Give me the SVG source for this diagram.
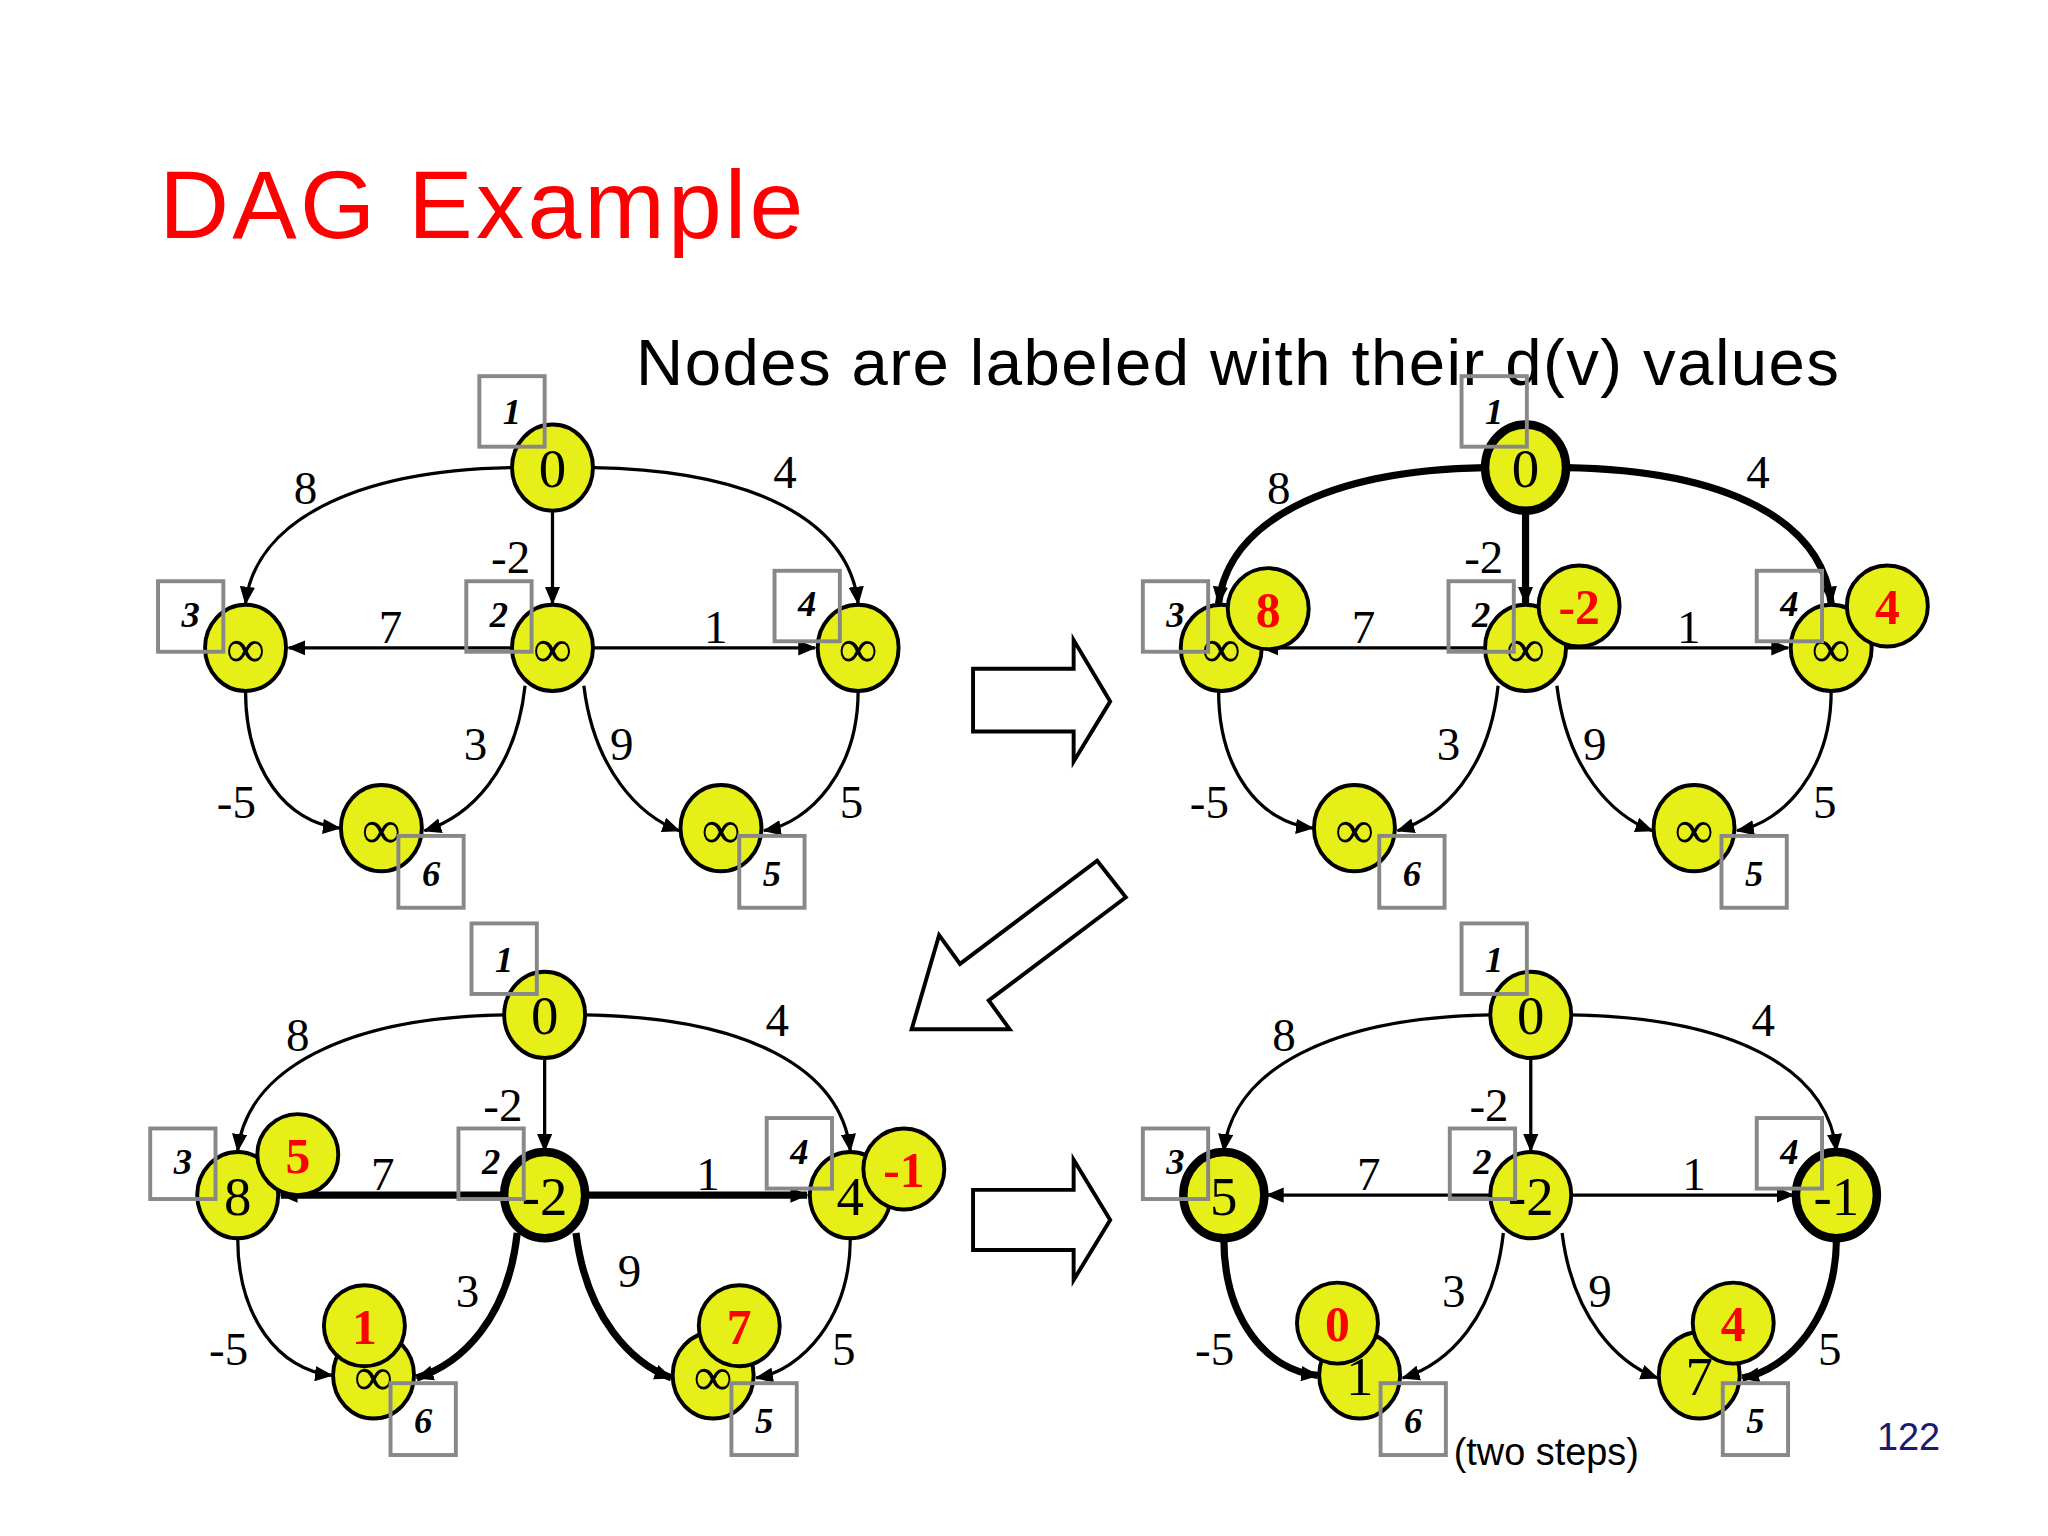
<svg xmlns="http://www.w3.org/2000/svg" width="2048" height="1536" viewBox="0 0 2048 1536">
<style>
.e{fill:none;stroke:#000;stroke-width:2.5}
.t{stroke-width:5.5}
.n{fill:#e6ef17;stroke:#000;stroke-width:3}
.nt{stroke-width:6.5}
.b{fill:#e6ef17;stroke:#000;stroke-width:3}
.v{font-family:"Liberation Serif",serif;font-size:42px;text-anchor:middle}
.bv{font-family:"Liberation Serif",serif;font-size:38px;font-weight:bold;fill:#f00;text-anchor:middle}
.w{font-family:"Liberation Serif",serif;font-size:36px;text-anchor:middle}
.bx{fill:none;stroke:#888;stroke-width:3}
.bl{font-family:"Liberation Serif",serif;font-size:28px;font-style:italic;font-weight:bold;text-anchor:middle}
.ba{fill:#fff;stroke:#000;stroke-width:3}
</style>
<defs>
<marker id="ah" viewBox="0 0 12 10" refX="11" refY="5" markerWidth="14" markerHeight="12" markerUnits="userSpaceOnUse" orient="auto"><path d="M0,0L12,5L0,10z"/></marker>
</defs>
<rect width="2048" height="1536" fill="#fff"/>
<g transform="scale(1.30612)">
<text x="122" y="182" font-family="Liberation Sans,sans-serif" font-size="74" fill="#f00" textLength="493">DAG Example</text>
<text x="487" y="295" font-family="Liberation Sans,sans-serif" font-size="50" textLength="921">Nodes are labeled with their d(v) values</text>
<text x="1437" y="1110" font-family="Liberation Sans,sans-serif" font-size="29" fill="#1a1a6e">122</text>
<text x="1113" y="1122" font-family="Liberation Sans,sans-serif" font-size="29">(two steps)</text>
<g id="bigarrows">
<polygon class="ba" points="745,512 822,512 822,490 850,537 822,583 822,560 745,560"/>
<polygon class="ba" points="745,911 822,911 822,888 850,934 822,980 822,957 745,957"/>
<polygon class="ba" points="862,687 757,766 773,788 698,788 719,716 735,738 840,659"/>
</g>

<g id="p1">
<g id="p1-edges">
<path class="e" marker-end="url(#ah)" d="M392,358 C270,360 195,400 188,462"/>
<path class="e" marker-end="url(#ah)" d="M454,358 C580,360 650,400 657,462"/>
<path class="e" marker-end="url(#ah)" d="M423,391 L423,462"/>
<path class="e" marker-end="url(#ah)" d="M392,496 L221,496"/>
<path class="e" marker-end="url(#ah)" d="M454,496 L624,496"/>
<path class="e" marker-end="url(#ah)" d="M188,529 C188,590 220,630 260,634"/>
<path class="e" marker-end="url(#ah)" d="M402,525 C395,590 360,625 325,636"/>
<path class="e" marker-end="url(#ah)" d="M447,525 C455,590 490,625 520,636"/>
<path class="e" marker-end="url(#ah)" d="M657,529 C657,590 620,630 585,636"/>
<text class="w" x="234" y="386">8</text><text class="w" x="601" y="374">4</text><text class="w" x="391" y="439">-2</text>
<text class="w" x="299" y="492">7</text><text class="w" x="548" y="492">1</text><text class="w" x="364" y="582">3</text>
<text class="w" x="476" y="582">9</text><text class="w" x="181" y="626">-5</text><text class="w" x="652" y="626">5</text>
</g>
<g id="p1-n1"><ellipse class="n" cx="423" cy="358" rx="31" ry="33"/><text class="v" x="423" y="373">0</text><rect class="bx" x="367" y="288" width="50" height="54"/><text class="bl" x="392" y="325">1</text></g>
<g id="p1-n3"><ellipse class="n" cx="188" cy="496" rx="31" ry="33"/><text class="v" x="188" y="511">∞</text><rect class="bx" x="121" y="445" width="50" height="54"/><text class="bl" x="146" y="480">3</text></g>
<g id="p1-n2"><ellipse class="n" cx="423" cy="496" rx="31" ry="33"/><text class="v" x="423" y="511">∞</text><rect class="bx" x="357" y="445" width="50" height="54"/><text class="bl" x="382" y="480">2</text></g>
<g id="p1-n4"><ellipse class="n" cx="657" cy="496" rx="31" ry="33"/><text class="v" x="657" y="511">∞</text><rect class="bx" x="593" y="437" width="50" height="54"/><text class="bl" x="618" y="472">4</text></g>
<g id="p1-n6"><ellipse class="n" cx="292" cy="634" rx="31" ry="33"/><text class="v" x="292" y="649">∞</text><rect class="bx" x="305" y="640" width="50" height="55"/><text class="bl" x="330" y="678">6</text></g>
<g id="p1-n5"><ellipse class="n" cx="552" cy="634" rx="31" ry="33"/><text class="v" x="552" y="649">∞</text><rect class="bx" x="566" y="640" width="50" height="55"/><text class="bl" x="591" y="678">5</text></g>
</g>

<g id="p2" transform="translate(745,0)">
<g id="p2-edges">
<path class="e t" marker-end="url(#ah)" d="M392,358 C270,360 195,400 188,462"/>
<path class="e t" marker-end="url(#ah)" d="M454,358 C580,360 650,400 657,462"/>
<path class="e t" marker-end="url(#ah)" d="M423,391 L423,462"/>
<path class="e" marker-end="url(#ah)" d="M392,496 L221,496"/>
<path class="e" marker-end="url(#ah)" d="M454,496 L624,496"/>
<path class="e" marker-end="url(#ah)" d="M188,529 C188,590 220,630 260,634"/>
<path class="e" marker-end="url(#ah)" d="M402,525 C395,590 360,625 325,636"/>
<path class="e" marker-end="url(#ah)" d="M447,525 C455,590 490,625 520,636"/>
<path class="e" marker-end="url(#ah)" d="M657,529 C657,590 620,630 585,636"/>
<text class="w" x="234" y="386">8</text><text class="w" x="601" y="374">4</text><text class="w" x="391" y="439">-2</text>
<text class="w" x="299" y="492">7</text><text class="w" x="548" y="492">1</text><text class="w" x="364" y="582">3</text>
<text class="w" x="476" y="582">9</text><text class="w" x="181" y="626">-5</text><text class="w" x="652" y="626">5</text>
</g>
<g id="p2-n1"><ellipse class="n nt" cx="423" cy="358" rx="31" ry="33"/><text class="v" x="423" y="373">0</text><rect class="bx" x="374" y="288" width="50" height="54"/><text class="bl" x="399" y="325">1</text></g>
<g id="p2-n3"><ellipse class="n" cx="190" cy="496" rx="31" ry="33"/><text class="v" x="190" y="511">∞</text><rect class="bx" x="130" y="445" width="50" height="54"/><text class="bl" x="155" y="480">3</text><circle class="b" cx="226" cy="466" r="31"/><text class="bv" x="226" y="480">8</text></g>
<g id="p2-n2"><ellipse class="n" cx="423" cy="496" rx="31" ry="33"/><text class="v" x="423" y="511">∞</text><rect class="bx" x="364" y="445" width="50" height="54"/><text class="bl" x="389" y="480">2</text><circle class="b" cx="464" cy="464" r="31"/><text class="bv" x="464" y="478">-2</text></g>
<g id="p2-n4"><ellipse class="n" cx="657" cy="496" rx="31" ry="33"/><text class="v" x="657" y="511">∞</text><rect class="bx" x="600" y="437" width="50" height="54"/><text class="bl" x="625" y="472">4</text><circle class="b" cx="700" cy="464" r="31"/><text class="bv" x="700" y="478">4</text></g>
<g id="p2-n6"><ellipse class="n" cx="292" cy="634" rx="31" ry="33"/><text class="v" x="292" y="649">∞</text><rect class="bx" x="311" y="640" width="50" height="55"/><text class="bl" x="336" y="678">6</text></g>
<g id="p2-n5"><ellipse class="n" cx="552" cy="634" rx="31" ry="33"/><text class="v" x="552" y="649">∞</text><rect class="bx" x="573" y="640" width="50" height="55"/><text class="bl" x="598" y="678">5</text></g>
</g>

<g id="p3" transform="translate(-6,419)">
<g id="p3-edges">
<path class="e" marker-end="url(#ah)" d="M392,358 C270,360 195,400 188,462"/>
<path class="e" marker-end="url(#ah)" d="M454,358 C580,360 650,400 657,462"/>
<path class="e" marker-end="url(#ah)" d="M423,391 L423,462"/>
<path class="e t" marker-end="url(#ah)" d="M392,496 L221,496"/>
<path class="e t" marker-end="url(#ah)" d="M454,496 L624,496"/>
<path class="e" marker-end="url(#ah)" d="M188,529 C188,590 220,630 260,634"/>
<path class="e t" marker-end="url(#ah)" d="M402,525 C395,590 360,625 325,636"/>
<path class="e t" marker-end="url(#ah)" d="M447,525 C455,590 490,625 520,636"/>
<path class="e" marker-end="url(#ah)" d="M657,529 C657,590 620,630 585,636"/>
<text class="w" x="234" y="386">8</text><text class="w" x="601" y="374">4</text><text class="w" x="391" y="439">-2</text>
<text class="w" x="299" y="492">7</text><text class="w" x="548" y="492">1</text><text class="w" x="364" y="582">3</text>
<text class="w" x="488" y="566">9</text><text class="w" x="181" y="626">-5</text><text class="w" x="652" y="626">5</text>
</g>
<g id="p3-n1"><ellipse class="n" cx="423" cy="358" rx="31" ry="33"/><text class="v" x="423" y="373">0</text><rect class="bx" x="367" y="288" width="50" height="54"/><text class="bl" x="392" y="325">1</text></g>
<g id="p3-n3"><ellipse class="n" cx="188" cy="496" rx="31" ry="33"/><text class="v" x="188" y="511">8</text><rect class="bx" x="121" y="445" width="50" height="54"/><text class="bl" x="146" y="480">3</text><circle class="b" cx="234" cy="465" r="31"/><text class="bv" x="234" y="479">5</text></g>
<g id="p3-n2"><ellipse class="n nt" cx="423" cy="496" rx="31" ry="33"/><text class="v" x="423" y="511">-2</text><rect class="bx" x="357" y="445" width="50" height="54"/><text class="bl" x="382" y="480">2</text></g>
<g id="p3-n4"><ellipse class="n" cx="657" cy="496" rx="31" ry="33"/><text class="v" x="657" y="511">4</text><rect class="bx" x="593" y="437" width="50" height="54"/><text class="bl" x="618" y="472">4</text><circle class="b" cx="698" cy="476" r="31"/><text class="bv" x="698" y="490">-1</text></g>
<g id="p3-n6"><ellipse class="n" cx="292" cy="634" rx="31" ry="33"/><text class="v" x="292" y="649">∞</text><circle class="b" cx="285" cy="596" r="31"/><text class="bv" x="285" y="610">1</text><rect class="bx" x="305" y="640" width="50" height="55"/><text class="bl" x="330" y="678">6</text></g>
<g id="p3-n5"><ellipse class="n" cx="552" cy="634" rx="31" ry="33"/><text class="v" x="552" y="649">∞</text><circle class="b" cx="572" cy="596" r="31"/><text class="bv" x="572" y="610">7</text><rect class="bx" x="566" y="640" width="50" height="55"/><text class="bl" x="591" y="678">5</text></g>
</g>

<g id="p4" transform="translate(749,419)">
<g id="p4-edges">
<path class="e" marker-end="url(#ah)" d="M392,358 C270,360 195,400 188,462"/>
<path class="e" marker-end="url(#ah)" d="M454,358 C580,360 650,400 657,462"/>
<path class="e" marker-end="url(#ah)" d="M423,391 L423,462"/>
<path class="e" marker-end="url(#ah)" d="M392,496 L221,496"/>
<path class="e" marker-end="url(#ah)" d="M454,496 L624,496"/>
<path class="e t" marker-end="url(#ah)" d="M188,529 C188,590 220,630 260,634"/>
<path class="e" marker-end="url(#ah)" d="M402,525 C395,590 360,625 325,636"/>
<path class="e" marker-end="url(#ah)" d="M447,525 C455,590 490,625 520,636"/>
<path class="e t" marker-end="url(#ah)" d="M657,529 C657,590 620,630 585,636"/>
<text class="w" x="234" y="386">8</text><text class="w" x="601" y="374">4</text><text class="w" x="391" y="439">-2</text>
<text class="w" x="299" y="492">7</text><text class="w" x="548" y="492">1</text><text class="w" x="364" y="582">3</text>
<text class="w" x="476" y="582">9</text><text class="w" x="181" y="626">-5</text><text class="w" x="652" y="626">5</text>
</g>
<g id="p4-n1"><ellipse class="n" cx="423" cy="358" rx="31" ry="33"/><text class="v" x="423" y="373">0</text><rect class="bx" x="370" y="288" width="50" height="54"/><text class="bl" x="395" y="325">1</text></g>
<g id="p4-n3"><ellipse class="n nt" cx="188" cy="496" rx="31" ry="33"/><text class="v" x="188" y="511">5</text><rect class="bx" x="126" y="445" width="50" height="54"/><text class="bl" x="151" y="480">3</text></g>
<g id="p4-n2"><ellipse class="n" cx="423" cy="496" rx="31" ry="33"/><text class="v" x="423" y="511">-2</text><rect class="bx" x="361" y="445" width="50" height="54"/><text class="bl" x="386" y="480">2</text></g>
<g id="p4-n4"><ellipse class="n nt" cx="657" cy="496" rx="31" ry="33"/><text class="v" x="657" y="511">-1</text><rect class="bx" x="596" y="437" width="50" height="54"/><text class="bl" x="621" y="472">4</text></g>
<g id="p4-n6"><ellipse class="n" cx="292" cy="634" rx="31" ry="33"/><text class="v" x="292" y="649">1</text><circle class="b" cx="275" cy="594" r="31"/><text class="bv" x="275" y="608">0</text><rect class="bx" x="308" y="640" width="50" height="55"/><text class="bl" x="333" y="678">6</text></g>
<g id="p4-n5"><ellipse class="n" cx="552" cy="634" rx="31" ry="33"/><text class="v" x="552" y="649">7</text><circle class="b" cx="578" cy="594" r="31"/><text class="bv" x="578" y="608">4</text><rect class="bx" x="570" y="640" width="50" height="55"/><text class="bl" x="595" y="678">5</text></g>
</g>
</g>
</svg>
